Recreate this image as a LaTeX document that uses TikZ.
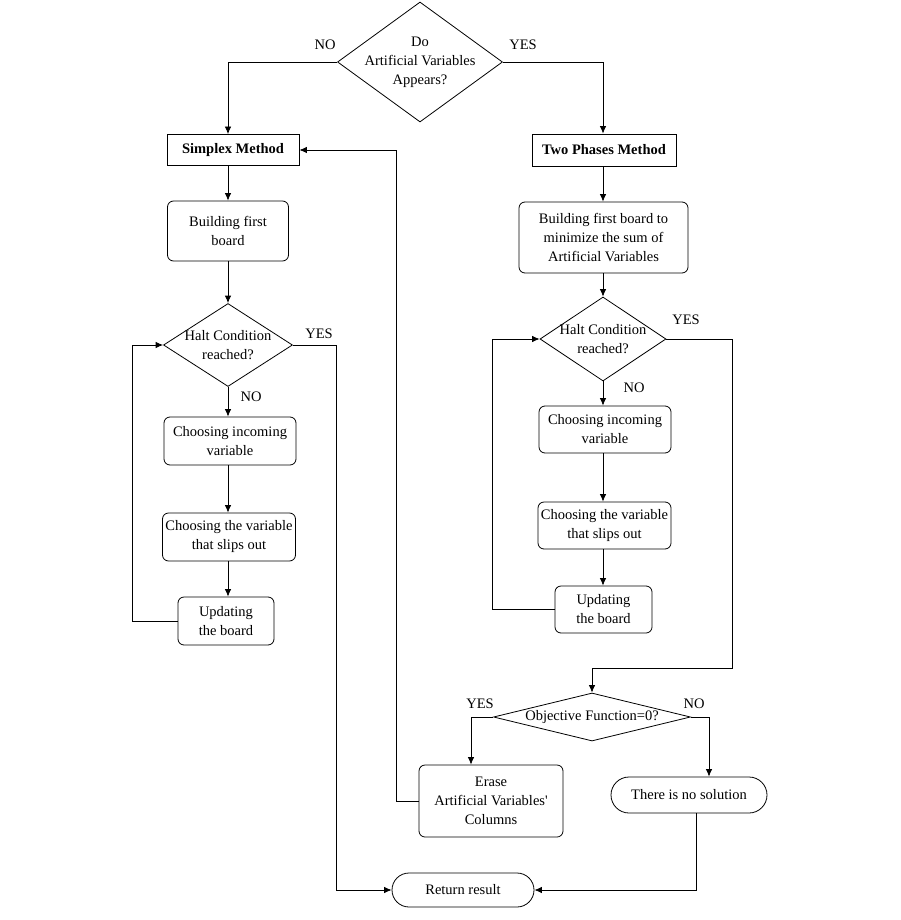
\documentclass[tikz,border=0pt]{standalone}
\usepackage{fontspec}
\setmainfont{Liberation Serif}
\usetikzlibrary{shapes.geometric,arrows.meta}
\begin{document}
\begin{tikzpicture}[x=1pt,y=-1pt,
  font=\fontsize{14.5}{19}\selectfont,
  base/.style={draw, fill=white, line width=0.8pt, inner sep=0pt, align=center},
  proc/.style={base, rounded corners=6pt},
  hdr/.style={base, font=\fontsize{14.5}{19}\selectfont\bfseries},
  dia/.style={base, diamond},
  term/.style={base, rounded corners=17pt},
  conn/.style={line width=0.8pt, -{Latex[length=7.5pt,width=6.5pt]}},
  lbl/.style={inner sep=0pt}]
\fill[white] (0,0) rectangle (900,920);
\useasboundingbox (0,0) rectangle (900,920);

% top decision
\node[dia, minimum width=165pt, minimum height=120pt] (d1) at (420,62) {};
\node[align=center] at (d1) {Do\\Artificial Variables\\Appears?};

% left column
\node[hdr, minimum width=132pt, minimum height=31pt] (simplex) at (233,150) {Simplex Method};
\node[proc, minimum width=121pt, minimum height=60pt] (build1) at (228,231) {Building first\\board};
\node[dia, minimum width=129pt, minimum height=83pt] (halt1) at (228,345) {};
\node[align=center] at (halt1) {Halt Condition\\reached?};
\node[proc, minimum width=132pt, minimum height=48pt] (ch1) at (230,441) {Choosing incoming\\variable};
\node[proc, minimum width=133pt, minimum height=48pt] (sl1) at (229,537) {Choosing the variable\\that slips out};
\node[proc, minimum width=96pt, minimum height=48pt] (up1) at (226,621) {Updating\\the board};

% right column
\node[hdr, minimum width=144pt, minimum height=32pt] (twop) at (604,150) {Two Phases Method};
\node[proc, minimum width=169pt, minimum height=71pt] (build2) at (603.5,237.5) {Building first board to\\minimize the sum of\\Artificial Variables};
\node[dia, minimum width=126pt, minimum height=84pt] (halt2) at (603,339) {};
\node[align=center] at (halt2) {Halt Condition\\reached?};
\node[proc, minimum width=132pt, minimum height=47pt] (ch2) at (605,429.5) {Choosing incoming\\variable};
\node[proc, minimum width=133pt, minimum height=47pt] (sl2) at (604.5,525.5) {Choosing the variable\\that slips out};
\node[proc, minimum width=97pt, minimum height=47pt] (up2) at (603.5,609.5) {Updating\\the board};

% bottom
\node[dia, minimum width=197pt, minimum height=48pt] (obj) at (592,717) {};
\node at (obj) {Objective Function=0?};
\node[proc, minimum width=144pt, minimum height=72pt] (erase) at (491,801) {Erase\\Artificial Variables\textquotesingle\\Columns};
\node[term, minimum width=156pt, minimum height=36pt, rounded corners=18pt] (nosol) at (689,795) {There is no solution};
\node[term, minimum width=142pt, minimum height=34pt] (ret) at (463,890) {Return result};

% helper coordinates
\coordinate (xL) at (228,0);
\coordinate (xR) at (603,0);
\coordinate (fb) at (396,150);
\coordinate (c1) at (336,890);
\coordinate (c2) at (732,668);
\coordinate (l1) at (132,621);
\coordinate (l2) at (492,609.5);
\coordinate (eY) at (471,0);
\coordinate (eN) at (709,0);
\coordinate (nb) at (696,0);

% top branches
\draw[conn] (d1.west) -| (simplex.north -| xL);
\draw[conn] (d1.east) -| (twop.north -| xR);

% left column flow
\draw[conn] (simplex.south -| xL) -- (build1.north -| xL);
\draw[conn] (build1.south -| xL) -- (halt1.north);
\draw[conn] (halt1.south) -- (ch1.north -| xL);
\draw[conn] (ch1.south -| xL) -- (sl1.north -| xL);
\draw[conn] (sl1.south -| xL) -- (up1.north -| xL);
\draw[conn] (up1.west) -- (l1) |- (halt1.west);
\draw[conn] (halt1.east) -| (c1) -- (ret.west);

% right column flow
\draw[conn] (twop.south -| xR) -- (build2.north -| xR);
\draw[conn] (build2.south -| xR) -- (halt2.north);
\draw[conn] (halt2.south) -- (ch2.north -| xR);
\draw[conn] (ch2.south -| xR) -- (sl2.north -| xR);
\draw[conn] (sl2.south -| xR) -- (up2.north -| xR);
\draw[conn] (up2.west) -- (l2) |- (halt2.west);
\draw[conn] (halt2.east) -| (c2) -| (obj.north);

% objective branches
\draw[conn] (obj.west) -| (erase.north -| eY);
\draw[conn] (obj.east) -| (nosol.north -| eN);
\draw[conn] (erase.west) -| (fb) -- (simplex.east);
\draw[conn] (nosol.south -| nb) |- (ret.east);

% labels
\node[lbl] at (325,45) {NO};
\node[lbl] at (523,45) {YES};
\node[lbl] at (319,334) {YES};
\node[lbl] at (251,397) {NO};
\node[lbl] at (686,320) {YES};
\node[lbl] at (634,388) {NO};
\node[lbl] at (480,704) {YES};
\node[lbl] at (694,704) {NO};
\end{tikzpicture}
\end{document}
